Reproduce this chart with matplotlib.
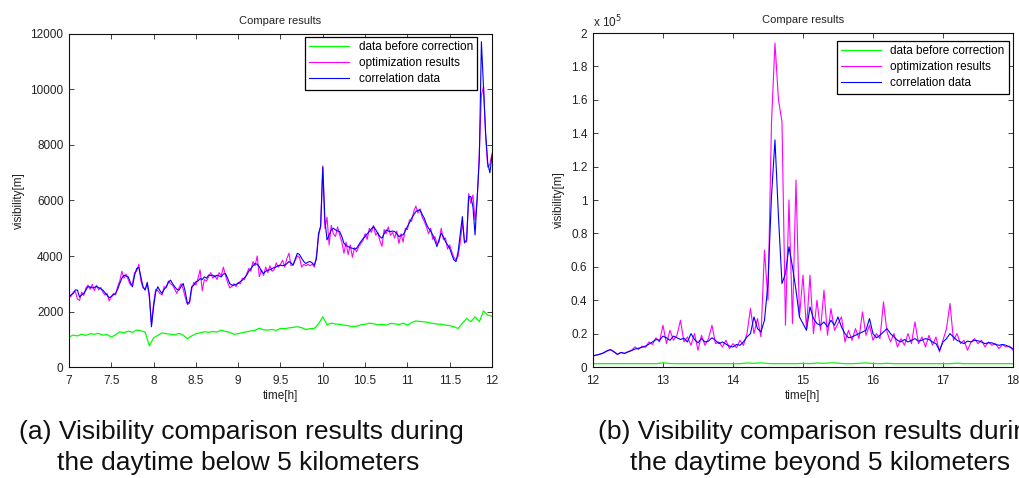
import numpy as np
import matplotlib
matplotlib.use('Agg')
import matplotlib.pyplot as plt
from matplotlib.ticker import FuncFormatter

plt.rcParams['font.family'] = ['Liberation Sans', 'DejaVu Sans']

# ---- (a) 7h-12h, visibility in m, sampled every 0.025 h (green every 0.05 h)
a_correlation = [
    2530, 2600, 2650, 2780, 2770, 2520, 2600, 2650, 2770, 2900,
    2880, 2850, 2870, 2900, 2860, 2820, 2770, 2680, 2590, 2500,
    2530, 2600, 2650, 2800, 3010, 3200, 3310, 3280, 3250, 3050,
    2890, 3300, 3550, 3590, 3250, 2900, 2770, 3050, 2600, 1450,
    2170, 2700, 2890, 2750, 2650, 2800, 2890, 3050, 3130, 3000,
    2890, 2800, 2770, 2900, 3010, 2700, 2290, 2350, 2890, 2950,
    3070, 3100, 3190, 3150, 3250, 3200, 3310, 3300, 3310, 3250,
    3310, 3280, 3250, 3350, 3370, 3200, 3010, 2950, 2950, 2980,
    3010, 3080, 3130, 3220, 3310, 3450, 3550, 3650, 3730, 3700,
    3610, 3450, 3370, 3450, 3490, 3500, 3550, 3580, 3610, 3650,
    3670, 3650, 3670, 3720, 3800, 3750, 3670, 3900, 4100, 4050,
    3920, 3800, 3730, 3780, 3800, 3750, 3670, 3900, 4820, 5060,
    7200, 5300, 4580, 4750, 4940, 5000, 4940, 4900, 4880, 4700,
    4460, 4380, 4340, 4300, 4280, 4250, 4280, 4400, 4520, 4620,
    4700, 4800, 4880, 4980, 5060, 4950, 4820, 4700, 4640, 4800,
    4940, 4900, 4880, 4900, 4880, 4800, 4700, 4750, 4760, 4900,
    5060, 5200, 5360, 5480, 5600, 5650, 5660, 5500, 5360, 5150,
    5000, 4900, 4760, 4550, 4340, 4600, 4820, 4700, 4520, 4400,
    4280, 4050, 3860, 3800, 4160, 4800, 5420, 4470, 4580, 6140,
    6140, 5780, 4760, 6140, 7460, 11720, 10100, 8430, 7350, 7000,
    7600]
a_optimization = [
    2500, 2550, 2700, 2720, 2450, 2400, 2700, 2580, 2850, 2950,
    2800, 2980, 2750, 2950, 2780, 2870, 2700, 2600, 2650, 2380,
    2550, 2650, 2600, 2900, 3100, 3450, 3200, 3350, 3150, 2950,
    3000, 3400, 3450, 3700, 3100, 2850, 2800, 3000, 2500, 1550,
    2300, 2800, 2750, 2650, 2600, 2900, 2850, 3100, 3000, 2950,
    2800, 2650, 2850, 3000, 2800, 2500, 2250, 2300, 2800, 3050,
    2950, 3200, 3500, 2750, 3150, 3100, 3250, 3400, 3200, 3300,
    3150, 3400, 3300, 3600, 3300, 3050, 2850, 2900, 3000, 2900,
    3050, 3000, 3200, 3150, 3350, 3550, 3450, 3800, 3650, 4000,
    3250, 3500, 3300, 3600, 3400, 3650, 3450, 3500, 3750, 3600,
    3700, 3850, 3600, 3900, 4100, 3650, 3700, 3850, 4000, 3950,
    3600, 3700, 3650, 3700, 3650, 3700, 3600, 4000, 4700, 5100,
    7250, 5000, 5400, 4400, 5100, 4800, 4700, 5050, 4750, 4500,
    4100, 4500, 4050, 4400, 3950, 4300, 4150, 4350, 4450, 4550,
    4800, 4600, 5000, 4850, 5100, 4750, 4850, 4550, 4350, 4950,
    4800, 5050, 4750, 4850, 4650, 4900, 4450, 4800, 4500, 5000,
    4950, 5300, 5250, 5600, 5800, 5550, 5700, 5400, 5250, 5050,
    4800, 5000, 4600, 4700, 4450, 4500, 5000, 4600, 4650, 4250,
    4400, 4150, 3950, 3850, 4000, 4500, 5200, 4550, 4500, 6250,
    5900, 6200, 5300, 6000, 7700, 9800, 10100, 8300, 7200, 7300,
    7700]
a_before = [
    1080, 1150, 1120, 1180, 1140, 1200, 1180, 1210, 1150, 1170,
    1080, 1160, 1270, 1230, 1290, 1250, 1330, 1300, 1260, 760,
    1050, 1140, 1230, 1200, 1180, 1160, 1210, 1150, 1020, 1120,
    1200, 1230, 1270, 1250, 1280, 1260, 1330, 1280, 1250, 1180,
    1200, 1240, 1270, 1300, 1320, 1400, 1340, 1330, 1350, 1320,
    1390, 1380, 1410, 1430, 1450, 1420, 1350, 1380, 1390, 1550,
    1810, 1520, 1580, 1550, 1540, 1510, 1490, 1450, 1470, 1520,
    1540, 1580, 1560, 1520, 1540, 1510, 1570, 1560, 1530, 1580,
    1510, 1600, 1660, 1640, 1630, 1600, 1570, 1550, 1540, 1510,
    1490, 1450, 1390, 1570, 1750, 1630, 1810, 1630, 2020, 1870,
    1830]

# ---- (b) 12h-18h, visibility in units of 1e5 m, sampled every 0.05 h (green every 0.1 h)
b_correlation = [
    0.068, 0.072, 0.076, 0.085, 0.097, 0.105, 0.092, 0.076, 0.087, 0.082,
    0.090, 0.098, 0.108, 0.112, 0.118, 0.125, 0.137, 0.150, 0.165, 0.160,
    0.185, 0.175, 0.160, 0.185, 0.175, 0.165, 0.172, 0.150, 0.200, 0.165,
    0.145, 0.170, 0.150, 0.155, 0.175, 0.160, 0.140, 0.150, 0.137, 0.125,
    0.120, 0.135, 0.130, 0.150, 0.180, 0.200, 0.300, 0.230, 0.210, 0.280,
    0.500, 1.020, 1.360, 0.900, 0.500, 0.560, 0.720, 0.600, 0.460, 0.300,
    0.260, 0.220, 0.360, 0.290, 0.260, 0.250, 0.270, 0.240, 0.280, 0.250,
    0.300, 0.240, 0.200, 0.175, 0.180, 0.190, 0.200, 0.210, 0.220, 0.290,
    0.200, 0.175, 0.190, 0.210, 0.230, 0.200, 0.180, 0.160, 0.150, 0.165,
    0.150, 0.160, 0.170, 0.155, 0.160, 0.170, 0.165, 0.150, 0.140, 0.100,
    0.150, 0.170, 0.200, 0.180, 0.160, 0.150, 0.140, 0.155, 0.150, 0.160,
    0.157, 0.150, 0.140, 0.145, 0.145, 0.135, 0.130, 0.135, 0.130, 0.120,
    0.110]
b_optimization = [
    0.066, 0.070, 0.078, 0.083, 0.095, 0.103, 0.090, 0.075, 0.088, 0.080,
    0.092, 0.100, 0.120, 0.105, 0.125, 0.118, 0.150, 0.135, 0.175, 0.150,
    0.250, 0.140, 0.220, 0.160, 0.190, 0.280, 0.150, 0.180, 0.130, 0.200,
    0.100, 0.190, 0.130, 0.170, 0.250, 0.140, 0.150, 0.120, 0.160, 0.110,
    0.140, 0.115, 0.160, 0.130, 0.200, 0.350, 0.200, 0.290, 0.180, 0.700,
    0.400, 1.460, 1.940, 1.600, 1.470, 0.250, 1.000, 0.260, 1.120, 0.300,
    0.550, 0.230, 0.550, 0.200, 0.400, 0.220, 0.460, 0.190, 0.350, 0.220,
    0.260, 0.300, 0.150, 0.220, 0.160, 0.230, 0.170, 0.330, 0.190, 0.250,
    0.160, 0.200, 0.170, 0.390, 0.210, 0.150, 0.200, 0.120, 0.170, 0.130,
    0.200, 0.140, 0.270, 0.140, 0.180, 0.120, 0.190, 0.130, 0.180, 0.090,
    0.160, 0.230, 0.380, 0.160, 0.200, 0.140, 0.160, 0.100, 0.150, 0.170,
    0.140, 0.160, 0.120, 0.150, 0.130, 0.140, 0.110, 0.135, 0.120, 0.125,
    0.100]
b_before = [
    0.020, 0.020, 0.020, 0.020, 0.020, 0.020, 0.020, 0.020, 0.020, 0.020,
    0.025, 0.021, 0.020, 0.020, 0.020, 0.020, 0.020, 0.020, 0.020, 0.020,
    0.020, 0.020, 0.024, 0.022, 0.025, 0.021, 0.020, 0.020, 0.020, 0.020,
    0.022, 0.020, 0.024, 0.022, 0.025, 0.023, 0.020, 0.020, 0.022, 0.024,
    0.021, 0.020, 0.022, 0.020, 0.020, 0.020, 0.020, 0.020, 0.020, 0.020,
    0.020, 0.020, 0.023, 0.020, 0.020, 0.020, 0.020, 0.020, 0.020, 0.020,
    0.020]

labels = ['data before correction', 'optimization results', 'correlation data']
colors = ['#00ff00', '#ff00ff', '#0000ff']

fig = plt.figure(figsize=(10.19, 4.78), dpi=100)
ax1 = fig.add_axes([0.0677, 0.2322, 0.4151, 0.6967])
ax2 = fig.add_axes([0.5819, 0.2322, 0.4122, 0.6987])


def style(ax):
    ax.tick_params(axis='both', direction='in', top=True, right=True,
                   length=3.5, width=0.6, labelsize=8.5, colors='#222222')
    ax.tick_params(axis='x', pad=6)
    ax.tick_params(axis='y', pad=4)
    for s in ax.spines.values():
        s.set_linewidth(0.8)
        s.set_color('#111111')
    ax.set_title('Compare results', fontsize=8, color='#222222', pad=7)
    ax.set_xlabel('time[h]', fontsize=8.5, color='#222222', labelpad=2)
    ax.set_ylabel('visibility[m]', fontsize=8.5, color='#222222', labelpad=4)


# (a)
t_a = np.linspace(7, 12, len(a_correlation))
t_a_g = np.linspace(7, 12, len(a_before))
ax1.plot(t_a_g, a_before, color=colors[0], lw=0.9, label=labels[0])
ax1.plot(t_a, a_optimization, color=colors[1], lw=0.8, label=labels[1])
ax1.plot(t_a, a_correlation, color=colors[2], lw=0.8, label=labels[2])
ax1.set_xlim(7, 12)
ax1.set_ylim(0, 12000)
ax1.set_xticks(np.arange(7, 12.01, 0.5))
ax1.set_yticks(np.arange(0, 12001, 2000))
ax1.xaxis.set_major_formatter(FuncFormatter(lambda v, p: '%g' % v))
style(ax1)
leg1 = ax1.legend(loc='upper right', bbox_to_anchor=(0.9645, 0.991),
                  borderaxespad=0, fancybox=False, edgecolor='black',
                  framealpha=1, fontsize=8.5, handlelength=3.4,
                  labelspacing=0.35, borderpad=0.35)
leg1.get_frame().set_linewidth(0.9)

# (b)
t_b = np.linspace(12, 18, len(b_correlation))
t_b_g = np.linspace(12, 18, len(b_before))
ax2.plot(t_b_g, b_before, color=colors[0], lw=0.9, label=labels[0])
ax2.plot(t_b, b_optimization, color=colors[1], lw=0.8, label=labels[1])
ax2.plot(t_b, b_correlation, color=colors[2], lw=0.8, label=labels[2])
ax2.set_xlim(12, 18)
ax2.set_ylim(0, 2)
ax2.set_xticks(np.arange(12, 19, 1))
ax2.set_yticks(np.arange(0, 2.01, 0.2))
ax2.yaxis.set_major_formatter(FuncFormatter(lambda v, p: '%g' % round(v, 1)))
style(ax2)
ax2.text(0.0, 1.008, r'x 10$^5$', transform=ax2.transAxes, fontsize=8.5,
         color='#222222', ha='left', va='bottom')
leg2 = ax2.legend(loc='upper right', bbox_to_anchor=(0.990, 0.976),
                  borderaxespad=0, fancybox=False, edgecolor='black',
                  framealpha=1, fontsize=8.5, handlelength=3.4,
                  labelspacing=0.35, borderpad=0.35)
leg2.get_frame().set_linewidth(0.9)

# captions under the panels (the (b) caption runs past the right edge, as in the source)
fig.text(241 / 1019, 1 - 432 / 478, '(a) Visibility comparison results during',
         fontsize=19, ha='center', va='center', color='#111111')
fig.text(238 / 1019, 1 - 463 / 478, 'the daytime below 5 kilometers',
         fontsize=19, ha='center', va='center', color='#111111')
fig.text(820 / 1019, 1 - 432 / 478, '(b) Visibility comparison results during',
         fontsize=19, ha='center', va='center', color='#111111')
fig.text(820 / 1019, 1 - 463 / 478, 'the daytime beyond 5 kilometers',
         fontsize=19, ha='center', va='center', color='#111111')

fig.savefig('out.png', dpi=100)
